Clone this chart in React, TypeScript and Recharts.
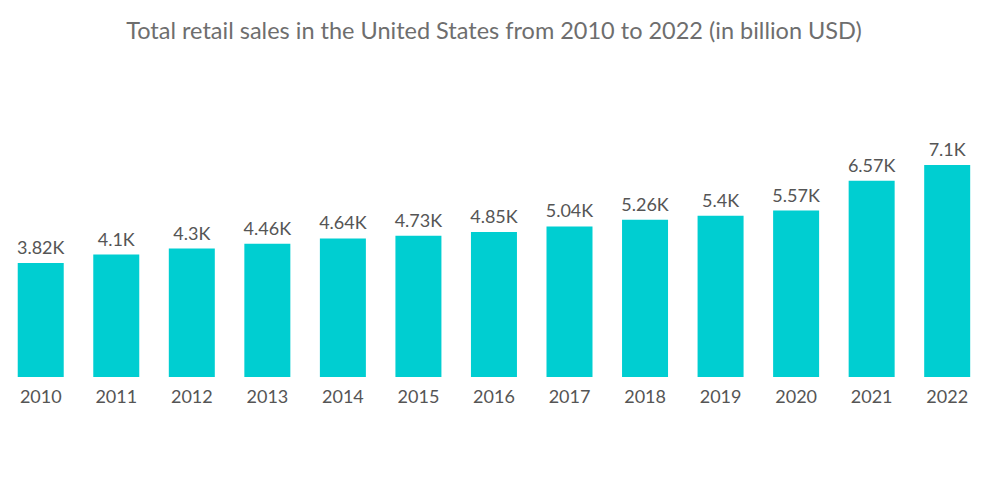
import React from "react";
import { BarChart, Bar, XAxis, YAxis, LabelList } from "recharts";

const years = ["2010","2011","2012","2013","2014","2015","2016","2017","2018","2019","2020","2021","2022"];
const sales = [3.82, 4.1, 4.3, 4.46, 4.64, 4.73, 4.85, 5.04, 5.26, 5.4, 5.57, 6.57, 7.1];
const labels = ["3.82K","4.1K","4.3K","4.46K","4.64K","4.73K","4.85K","5.04K","5.26K","5.4K","5.57K","6.57K","7.1K"];

const data = years.map((y, i) => ({ year: y, value: sales[i], label: labels[i] }));

export default function App() {
  return (
    <div style={{ position: "absolute", left: 0, top: 0, width: 1000, height: 504, background: "#fff", fontFamily: "Lato, sans-serif" }}>
      <div style={{ position: "absolute", top: 16, left: 0, width: 988, textAlign: "center", fontSize: 23.5, color: "#6e6e6e", fontWeight: 400 }}>
        Total retail sales in the United States from 2010 to 2022 (in billion USD)
      </div>
      <BarChart width={1000} height={504} data={data} margin={{ top: 138, right: 15, left: 3, bottom: 97 }} barCategoryGap="19.5%">
        <YAxis hide domain={[0, 8]} />
        <XAxis dataKey="year" axisLine={false} tickLine={false} height={30} tick={{ fill: "#555", fontSize: 18, fontFamily: "Lato, sans-serif" }} dy={5} interval={0} />
        <Bar dataKey="value" fill="#00CED1" isAnimationActive={false}>
          <LabelList dataKey="label" position="top" offset={9} style={{ fill: "#555", fontSize: 18, fontFamily: "Lato, sans-serif" }} />
        </Bar>
      </BarChart>
    </div>
  );
}
